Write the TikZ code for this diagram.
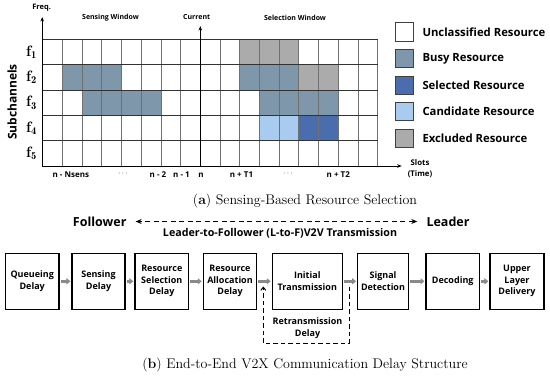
\documentclass[tikz,border=0pt]{standalone}
\usepackage{fontspec}
\setsansfont{Open Sans}
\usetikzlibrary{arrows.meta}
\definecolor{busy}{HTML}{7F97AA}
\definecolor{selres}{HTML}{4A6EAD}
\definecolor{cand}{HTML}{A9CBEF}
\definecolor{excl}{HTML}{ABABAB}
\definecolor{gridc}{HTML}{707070}
\definecolor{flowc}{HTML}{8A8A8A}
\tikzset{
  small/.style={font=\sffamily\bfseries\fontsize{7}{8}\selectfont, inner sep=0pt},
  slot/.style={font=\sffamily\bfseries\fontsize{8}{9}\selectfont, inner sep=0pt},
  legbox/.style={draw=black!75, line width=0.9pt, minimum width=18.5pt, minimum height=18.5pt, inner sep=0pt},
  legtext/.style={font=\sffamily\bfseries\fontsize{11.3}{13}\selectfont, anchor=west, inner sep=0pt},
  delaybox/.style={draw=black, line width=1.5pt, minimum height=56pt, inner sep=1pt, align=center,
    font=\sffamily\bfseries\fontsize{9}{11.5}\selectfont},
  flow/.style={draw=flowc, line width=2.6pt, -{Triangle[length=4pt,width=6pt]}, shorten <=0.8pt, shorten >=0.8pt},
  axisarrow/.style={draw=black, line width=0.9pt, -{Stealth[length=4.5pt,width=3.5pt]}},
  flabel/.style={inner sep=0pt, font=\bfseries\fontsize{15}{16}\selectfont},
  caption/.style={inner sep=0pt, font=\fontsize{14}{16}\selectfont}
}
\begin{document}
\begin{tikzpicture}[x=1pt,y=-1pt]
\useasboundingbox (0,0) rectangle (550,377);
% ---- cells
\foreach \c/\r/\col in {2/2/busy,3/2/busy,4/2/busy,3/3/busy,4/3/busy,5/3/busy,6/3/busy,
  11/1/excl,12/1/excl,13/1/excl,11/2/busy,12/2/busy,13/2/busy,14/2/excl,15/2/excl,
  12/3/busy,13/3/busy,14/3/busy,15/3/busy,12/4/cand,13/4/cand,14/4/selres,15/4/selres}
  \fill[\col] ({42.7+19.7*(\c-1)},{39.5+25.3*(\r-1)}) rectangle +(19.7,25.3);
% ---- grid
\foreach \i in {0,...,17} \draw[gridc, line width=0.8pt] ({42.7+19.7*\i},39.5) -- ({42.7+19.7*\i},166);
\foreach \j in {0,...,5} \draw[black!80, line width=0.8pt] (42.7,{39.5+25.3*\j}) -- (377.6,{39.5+25.3*\j});
% ---- axes
\coordinate (o) at (42.2,166);
\coordinate (ytop) at (42.2,17);
\coordinate (xend) at (401.7,166);
\coordinate (cb) at (200.3,166);
\coordinate (ct) at (200.3,26);
\draw[axisarrow] (o) -- (ytop);
\draw[axisarrow] (o) -- (xend);
\draw[axisarrow] (cb) -- (ct);
\node[small, font=\sffamily\bfseries\fontsize{7.5}{8}\selectfont] (freq) at (41.7,7.5) {Freq.};
\node[small] (sw) at (110.5,17.5) {Sensing Window};
\node[small] (cur) at (196.7,17.5) {Current};
\node[small] (selw) at (295,17.5) {Selection Window};
\node[small, font=\sffamily\bfseries\fontsize{7.8}{11.5}\selectfont, align=center] (slots) at (420,168.5) {Slots\\(Time)};
% slot labels
\node[slot] (l1) at (70.8,175) {n - Nsens};
\node[slot] (l2) at (123,173.5) {$\cdots$};
\node[slot] (l3) at (158,175) {n - 2};
\node[slot] (l4) at (181.5,175) {n - 1};
\node[slot] (l5) at (201,175) {n};
\node[slot] (l6) at (241.5,175) {n + T1};
\node[slot] (l7) at (288,173.5) {$\cdots$};
\node[slot] (l8) at (338.3,175) {n + T2};
% subchannel labels
\foreach \r in {1,...,5}
  \node[flabel] (f\r) at (31.5,{52.2+25.3*(\r-1)}) {f$_{\mathbf{\r}}$};
\node[rotate=90, inner sep=0pt, font=\sffamily\bfseries\fontsize{12}{14}\selectfont] (subch) at (12,102) {Subchannels};
% ---- legend
\node[legbox, fill=white] (lg1) at (404.2,32) {};
\node[legbox, fill=busy] (lg2) at (404.2,58.4) {};
\node[legbox, fill=selres] (lg3) at (404.2,85.3) {};
\node[legbox, fill=cand] (lg4) at (404.2,111.7) {};
\node[legbox, fill=excl] (lg5) at (404.2,138.3) {};
\node[legtext] (lt1) at (422.3,32) {Unclassified Resource};
\node[legtext] (lt2) at (422.3,58.4) {Busy Resource};
\node[legtext] (lt3) at (422.3,85.3) {Selected Resource};
\node[legtext] (lt4) at (422.3,111.7) {Candidate Resource};
\node[legtext] (lt5) at (422.3,138.3) {Excluded Resource};
% ---- caption a
\node[caption] (capa) at (305,201.5) {(\textbf{a}) Sensing-Based Resource Selection};
% ---- part b
\node[inner sep=0pt, font=\sffamily\bfseries\fontsize{12.5}{14}\selectfont] (fol) at (99.7,221.5) {Follower};
\node[inner sep=0pt, font=\sffamily\bfseries\fontsize{12.5}{14}\selectfont] (lead) at (448,221.5) {Leader};
\draw[line width=1.1pt, dash pattern=on 5pt off 3.5pt, {Stealth[length=6pt,width=5pt]}-{Stealth[length=6pt,width=5pt]}]
  ([xshift=-9pt]lead.west) -- ([xshift=9pt]fol.east);
\node[inner sep=0pt, font=\sffamily\bfseries\fontsize{10.7}{12}\selectfont] (l2f) at (280,233) {Leader-to-Follower (L-to-F)V2V Transmission};
% boxes
\node[delaybox, minimum width=53.7pt] (b1) at (32.2,281.3) {Queueing\\Delay};
\node[delaybox, minimum width=53pt] (b2) at (98.5,281.3) {Sensing\\Delay};
\node[delaybox, minimum width=53.7pt] (b3) at (161.8,281.3) {Resource\\Selection\\Delay};
\node[delaybox, minimum width=53.4pt] (b4) at (230,281.3) {Resource\\Allocation\\Delay};
\node[delaybox, minimum width=70pt] (b5) at (307.3,281.3) {Initial\\Transmission};
\node[delaybox, minimum width=50.6pt] (b6) at (383,281.3) {Signal\\Detection};
\node[delaybox, minimum width=53.3pt] (b7) at (452.7,281.3) {Decoding};
\node[delaybox, minimum width=54pt] (b8) at (517,281.3) {Upper\\Layer\\Delivery};
\foreach \a/\b in {b1/b2,b2/b3,b3/b4,b4/b5,b5/b6,b6/b7,b7/b8}
  \draw[flow] (\a.east) -- (\b.west);
% retransmission loop
\coordinate (r1) at (349,287);
\coordinate (r2) at (349,343.3);
\coordinate (r3) at (263.3,343.3);
\coordinate (r4) at (263.3,286.5);
\draw[line width=1pt, dash pattern=on 4.5pt off 3pt, -{Straight Barb[length=3pt,width=5pt]}] (r1) -- (r2) -- (r3) -- (r4);
\node[inner sep=0pt, align=center, font=\sffamily\bfseries\fontsize{9}{12}\selectfont] (rt) at (307.5,327.8) {Retransmission\\Delay};
% caption b
\node[caption] (capb) at (305,365) {(\textbf{b}) End-to-End V2X Communication Delay Structure};
\end{tikzpicture}
\end{document}
